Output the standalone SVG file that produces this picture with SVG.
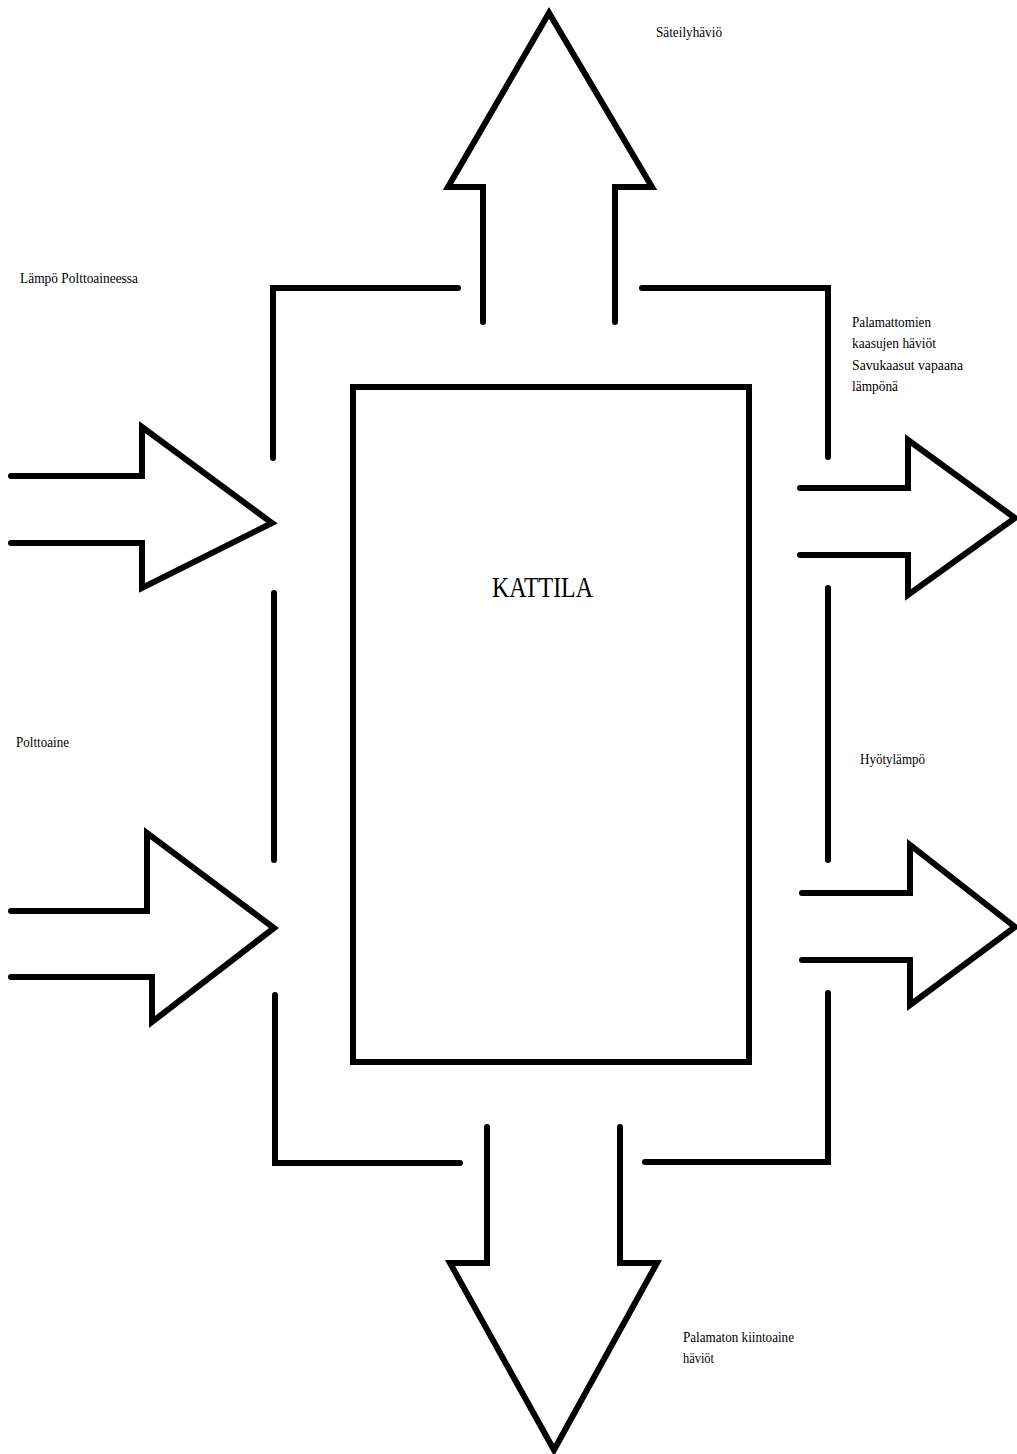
<svg xmlns="http://www.w3.org/2000/svg" width="1017" height="1454" viewBox="0 0 1017 1454">
  <style>
    .ln { fill: none; stroke: #000; stroke-width: 6; stroke-linecap: round; stroke-linejoin: miter; stroke-miterlimit: 10; }
    .lbl { font-family: "Liberation Serif", "Times New Roman", serif; font-size: 15px; fill: #000; }
    .big { font-family: "Liberation Serif", "Times New Roman", serif; font-size: 29px; fill: #000; }
  </style>
  <rect x="0" y="0" width="1017" height="1454" fill="#fff"/>

  <g id="kattila">
    <rect class="ln" x="353" y="387" width="396" height="675"/>
    <text class="big" x="492" y="597" textLength="101" lengthAdjust="spacingAndGlyphs">KATTILA</text>
  </g>

  <g id="frame">
    <polyline class="ln" points="458,288 273,288 273,458"/>
    <polyline class="ln" points="642,288 828,288 828,457"/>
    <line class="ln" x1="274" y1="593" x2="274" y2="860"/>
    <polyline class="ln" points="275,995 275,1163 460,1163"/>
    <polyline class="ln" points="645,1162 828,1162 828,993"/>
    <line class="ln" x1="828" y1="588" x2="828" y2="860"/>
  </g>

  <g id="connectors">
    <polyline id="arrow-sateily" class="ln" points="483,322 483,187 448,187 549,13 652,187 615,187 615,322"/>
    <polyline id="arrow-lampo" class="ln" points="11,476 142,476 142,427 272,523 142,588 142,543 11,543"/>
    <polyline id="arrow-polttoaine" class="ln" points="11,911 147,911 147,833 274,928 152,1022 152,977 11,977"/>
    <polyline id="arrow-savukaasut" class="ln" points="800,488 908,488 908,440 1015,518 908,595 908,555 800,555"/>
    <polyline id="arrow-hyoty" class="ln" points="802,893 910,893 910,845 1015,927 910,1005 910,960 802,960"/>
    <polyline id="arrow-kiintoaine" class="ln" points="487,1127 487,1263 450,1263 554,1450 657,1263 620,1263 620,1127"/>
  </g>

  <g id="label-sateily">
    <text class="lbl" x="656" y="37" textLength="66" lengthAdjust="spacingAndGlyphs">Säteilyhäviö</text>
  </g>
  <g id="label-lampo">
    <text class="lbl" x="20" y="283" textLength="118" lengthAdjust="spacingAndGlyphs">Lämpö Polttoaineessa</text>
  </g>
  <g id="label-polttoaine">
    <text class="lbl" x="16" y="747" textLength="53" lengthAdjust="spacingAndGlyphs">Polttoaine</text>
  </g>
  <g id="label-savukaasut">
    <text class="lbl" x="852" y="327" textLength="79" lengthAdjust="spacingAndGlyphs">Palamattomien</text>
    <text class="lbl" x="852" y="348" textLength="84" lengthAdjust="spacingAndGlyphs">kaasujen häviöt</text>
    <text class="lbl" x="852" y="370" textLength="111" lengthAdjust="spacingAndGlyphs">Savukaasut vapaana</text>
    <text class="lbl" x="852" y="391" textLength="46" lengthAdjust="spacingAndGlyphs">lämpönä</text>
  </g>
  <g id="label-hyoty">
    <text class="lbl" x="860" y="764" textLength="65" lengthAdjust="spacingAndGlyphs">Hyötylämpö</text>
  </g>
  <g id="label-kiintoaine">
    <text class="lbl" x="683" y="1342" textLength="111" lengthAdjust="spacingAndGlyphs">Palamaton kiintoaine</text>
    <text class="lbl" x="683" y="1363" textLength="31" lengthAdjust="spacingAndGlyphs">häviöt</text>
  </g>
</svg>
